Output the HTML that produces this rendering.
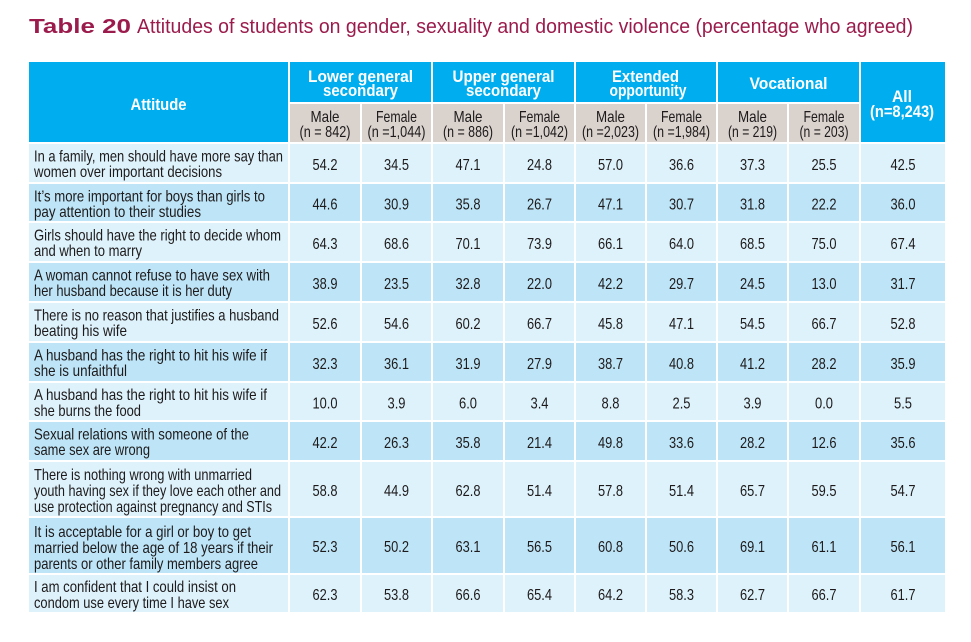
<!DOCTYPE html>
<html><head><meta charset="utf-8"><style>
html,body{margin:0;padding:0;background:#fff;}
svg{display:block;}
.t{font-family:"Liberation Sans Narrow","Liberation Sans",sans-serif;fill:#1e1a1b;font-size:16px;}
.n{font-family:"Liberation Sans Narrow","Liberation Sans",sans-serif;fill:#1e1a1b;font-size:16px;text-anchor:middle;}
.h{font-family:"Liberation Sans Narrow","Liberation Sans",sans-serif;fill:#fff;font-size:17px;font-weight:bold;text-anchor:middle;}
.s{font-family:"Liberation Sans Narrow","Liberation Sans",sans-serif;fill:#1e1a1b;font-size:16px;text-anchor:middle;}
.ti{font-family:"Liberation Sans",sans-serif;fill:#9b1c4c;font-size:20px;}
</style></head><body>
<svg width="971" height="642" viewBox="0 0 971 642" xmlns="http://www.w3.org/2000/svg">
<rect width="971" height="642" fill="#fff"/>
<text class="ti" x="29" y="33" font-weight="bold" textLength="102" lengthAdjust="spacingAndGlyphs">Table 20</text>
<text class="ti" x="137" y="33" textLength="776" lengthAdjust="spacingAndGlyphs">Attitudes of students on gender, sexuality and domestic violence (percentage who agreed)</text>

<!-- header -->
<g fill="#00aeef">
<rect x="29" y="62" width="259" height="80"/>
<rect x="290" y="62" width="141" height="40"/>
<rect x="433" y="62" width="141" height="40"/>
<rect x="576" y="62" width="140" height="40"/>
<rect x="718" y="62" width="141" height="40"/>
<rect x="861" y="62" width="84" height="80"/>
</g>
<g fill="#d9d2cd">
<rect x="290" y="104" width="70" height="38"/>
<rect x="362" y="104" width="69" height="38"/>
<rect x="433" y="104" width="70" height="38"/>
<rect x="505" y="104" width="69" height="38"/>
<rect x="576" y="104" width="69" height="38"/>
<rect x="647" y="104" width="69" height="38"/>
<rect x="718" y="104" width="69" height="38"/>
<rect x="789" y="104" width="70" height="38"/>
</g>
<text class="h" x="158.5" y="110" textLength="56" lengthAdjust="spacingAndGlyphs">Attitude</text>
<text class="h" x="360.5" y="82" textLength="105" lengthAdjust="spacingAndGlyphs">Lower general</text>
<text class="h" x="360.5" y="96" textLength="75" lengthAdjust="spacingAndGlyphs">secondary</text>
<text class="h" x="503.5" y="82" textLength="102" lengthAdjust="spacingAndGlyphs">Upper general</text>
<text class="h" x="503.5" y="96" textLength="75" lengthAdjust="spacingAndGlyphs">secondary</text>
<text class="h" x="645.5" y="82" textLength="67" lengthAdjust="spacingAndGlyphs">Extended</text>
<text class="h" x="648" y="96" textLength="77" lengthAdjust="spacingAndGlyphs">opportunity</text>
<text class="h" x="788.5" y="89" textLength="78" lengthAdjust="spacingAndGlyphs">Vocational</text>
<text class="h" x="902" y="102" textLength="20" lengthAdjust="spacingAndGlyphs">All</text>
<text class="h" x="902" y="117" textLength="64" lengthAdjust="spacingAndGlyphs">(n=8,243)</text>

<g>
<text class="s" x="325" y="122" textLength="29" lengthAdjust="spacingAndGlyphs">Male</text>
<text class="s" x="325" y="137" textLength="51" lengthAdjust="spacingAndGlyphs">(n = 842)</text>
<text class="s" x="396.5" y="122" textLength="41" lengthAdjust="spacingAndGlyphs">Female</text>
<text class="s" x="396.5" y="137" textLength="58" lengthAdjust="spacingAndGlyphs">(n =1,044)</text>
<text class="s" x="468" y="122" textLength="29" lengthAdjust="spacingAndGlyphs">Male</text>
<text class="s" x="468" y="137" textLength="50" lengthAdjust="spacingAndGlyphs">(n = 886)</text>
<text class="s" x="539.5" y="122" textLength="41" lengthAdjust="spacingAndGlyphs">Female</text>
<text class="s" x="539.5" y="137" textLength="57" lengthAdjust="spacingAndGlyphs">(n =1,042)</text>
<text class="s" x="610.5" y="122" textLength="29" lengthAdjust="spacingAndGlyphs">Male</text>
<text class="s" x="610.5" y="137" textLength="57" lengthAdjust="spacingAndGlyphs">(n =2,023)</text>
<text class="s" x="681.5" y="122" textLength="41" lengthAdjust="spacingAndGlyphs">Female</text>
<text class="s" x="681.5" y="137" textLength="57" lengthAdjust="spacingAndGlyphs">(n =1,984)</text>
<text class="s" x="752.5" y="122" textLength="29" lengthAdjust="spacingAndGlyphs">Male</text>
<text class="s" x="752.5" y="137" textLength="49" lengthAdjust="spacingAndGlyphs">(n = 219)</text>
<text class="s" x="824" y="122" textLength="41" lengthAdjust="spacingAndGlyphs">Female</text>
<text class="s" x="824" y="137" textLength="49" lengthAdjust="spacingAndGlyphs">(n = 203)</text>
</g>

<!-- body rows -->
<g>
<g fill="#ddf2fb">
<rect x="29" y="144" width="259" height="38"/><rect x="290" y="144" width="70" height="38"/><rect x="362" y="144" width="69" height="38"/><rect x="433" y="144" width="70" height="38"/><rect x="505" y="144" width="69" height="38"/><rect x="576" y="144" width="69" height="38"/><rect x="647" y="144" width="69" height="38"/><rect x="718" y="144" width="69" height="38"/><rect x="789" y="144" width="70" height="38"/><rect x="861" y="144" width="84" height="38"/>
<rect x="29" y="223" width="259" height="38"/><rect x="290" y="223" width="70" height="38"/><rect x="362" y="223" width="69" height="38"/><rect x="433" y="223" width="70" height="38"/><rect x="505" y="223" width="69" height="38"/><rect x="576" y="223" width="69" height="38"/><rect x="647" y="223" width="69" height="38"/><rect x="718" y="223" width="69" height="38"/><rect x="789" y="223" width="70" height="38"/><rect x="861" y="223" width="84" height="38"/>
<rect x="29" y="303" width="259" height="38"/><rect x="290" y="303" width="70" height="38"/><rect x="362" y="303" width="69" height="38"/><rect x="433" y="303" width="70" height="38"/><rect x="505" y="303" width="69" height="38"/><rect x="576" y="303" width="69" height="38"/><rect x="647" y="303" width="69" height="38"/><rect x="718" y="303" width="69" height="38"/><rect x="789" y="303" width="70" height="38"/><rect x="861" y="303" width="84" height="38"/>
<rect x="29" y="383" width="259" height="37"/><rect x="290" y="383" width="70" height="37"/><rect x="362" y="383" width="69" height="37"/><rect x="433" y="383" width="70" height="37"/><rect x="505" y="383" width="69" height="37"/><rect x="576" y="383" width="69" height="37"/><rect x="647" y="383" width="69" height="37"/><rect x="718" y="383" width="69" height="37"/><rect x="789" y="383" width="70" height="37"/><rect x="861" y="383" width="84" height="37"/>
<rect x="29" y="462" width="259" height="54"/><rect x="290" y="462" width="70" height="54"/><rect x="362" y="462" width="69" height="54"/><rect x="433" y="462" width="70" height="54"/><rect x="505" y="462" width="69" height="54"/><rect x="576" y="462" width="69" height="54"/><rect x="647" y="462" width="69" height="54"/><rect x="718" y="462" width="69" height="54"/><rect x="789" y="462" width="70" height="54"/><rect x="861" y="462" width="84" height="54"/>
<rect x="29" y="575" width="259" height="37"/><rect x="290" y="575" width="70" height="37"/><rect x="362" y="575" width="69" height="37"/><rect x="433" y="575" width="70" height="37"/><rect x="505" y="575" width="69" height="37"/><rect x="576" y="575" width="69" height="37"/><rect x="647" y="575" width="69" height="37"/><rect x="718" y="575" width="69" height="37"/><rect x="789" y="575" width="70" height="37"/><rect x="861" y="575" width="84" height="37"/>
</g>
<g fill="#bde5f7">
<rect x="29" y="184" width="259" height="37"/><rect x="290" y="184" width="70" height="37"/><rect x="362" y="184" width="69" height="37"/><rect x="433" y="184" width="70" height="37"/><rect x="505" y="184" width="69" height="37"/><rect x="576" y="184" width="69" height="37"/><rect x="647" y="184" width="69" height="37"/><rect x="718" y="184" width="69" height="37"/><rect x="789" y="184" width="70" height="37"/><rect x="861" y="184" width="84" height="37"/>
<rect x="29" y="263" width="259" height="38"/><rect x="290" y="263" width="70" height="38"/><rect x="362" y="263" width="69" height="38"/><rect x="433" y="263" width="70" height="38"/><rect x="505" y="263" width="69" height="38"/><rect x="576" y="263" width="69" height="38"/><rect x="647" y="263" width="69" height="38"/><rect x="718" y="263" width="69" height="38"/><rect x="789" y="263" width="70" height="38"/><rect x="861" y="263" width="84" height="38"/>
<rect x="29" y="343" width="259" height="38"/><rect x="290" y="343" width="70" height="38"/><rect x="362" y="343" width="69" height="38"/><rect x="433" y="343" width="70" height="38"/><rect x="505" y="343" width="69" height="38"/><rect x="576" y="343" width="69" height="38"/><rect x="647" y="343" width="69" height="38"/><rect x="718" y="343" width="69" height="38"/><rect x="789" y="343" width="70" height="38"/><rect x="861" y="343" width="84" height="38"/>
<rect x="29" y="422" width="259" height="38"/><rect x="290" y="422" width="70" height="38"/><rect x="362" y="422" width="69" height="38"/><rect x="433" y="422" width="70" height="38"/><rect x="505" y="422" width="69" height="38"/><rect x="576" y="422" width="69" height="38"/><rect x="647" y="422" width="69" height="38"/><rect x="718" y="422" width="69" height="38"/><rect x="789" y="422" width="70" height="38"/><rect x="861" y="422" width="84" height="38"/>
<rect x="29" y="518" width="259" height="55"/><rect x="290" y="518" width="70" height="55"/><rect x="362" y="518" width="69" height="55"/><rect x="433" y="518" width="70" height="55"/><rect x="505" y="518" width="69" height="55"/><rect x="576" y="518" width="69" height="55"/><rect x="647" y="518" width="69" height="55"/><rect x="718" y="518" width="69" height="55"/><rect x="789" y="518" width="70" height="55"/><rect x="861" y="518" width="84" height="55"/>
</g>
</g>

<!-- attitude text -->
<g>
<text class="t" x="34" y="161.5" textLength="249" lengthAdjust="spacingAndGlyphs">In a family, men should have more say than</text>
<text class="t" x="34" y="177" textLength="188" lengthAdjust="spacingAndGlyphs">women over important decisions</text>
<text class="t" x="34" y="201.5" textLength="231" lengthAdjust="spacingAndGlyphs">It’s more important for boys than girls to</text>
<text class="t" x="34" y="217" textLength="167" lengthAdjust="spacingAndGlyphs">pay attention to their studies</text>
<text class="t" x="34" y="240.5" textLength="247" lengthAdjust="spacingAndGlyphs">Girls should have the right to decide whom</text>
<text class="t" x="34" y="256" textLength="108" lengthAdjust="spacingAndGlyphs">and when to marry</text>
<text class="t" x="34" y="280.5" textLength="236" lengthAdjust="spacingAndGlyphs">A woman cannot refuse to have sex with</text>
<text class="t" x="34" y="296" textLength="198" lengthAdjust="spacingAndGlyphs">her husband because it is her duty</text>
<text class="t" x="34" y="320.5" textLength="245" lengthAdjust="spacingAndGlyphs">There is no reason that justifies a husband</text>
<text class="t" x="34" y="336" textLength="93" lengthAdjust="spacingAndGlyphs">beating his wife</text>
<text class="t" x="34" y="360.5" textLength="233" lengthAdjust="spacingAndGlyphs">A husband has the right to hit his wife if</text>
<text class="t" x="34" y="376" textLength="93" lengthAdjust="spacingAndGlyphs">she is unfaithful</text>
<text class="t" x="34" y="400" textLength="233" lengthAdjust="spacingAndGlyphs">A husband has the right to hit his wife if</text>
<text class="t" x="34" y="416" textLength="107" lengthAdjust="spacingAndGlyphs">she burns the food</text>
<text class="t" x="34" y="439.5" textLength="215" lengthAdjust="spacingAndGlyphs">Sexual relations with someone of the</text>
<text class="t" x="34" y="455" textLength="116" lengthAdjust="spacingAndGlyphs">same sex are wrong</text>
<text class="t" x="34" y="480" textLength="218" lengthAdjust="spacingAndGlyphs">There is nothing wrong with unmarried</text>
<text class="t" x="34" y="496" textLength="247" lengthAdjust="spacingAndGlyphs">youth having sex if they love each other and</text>
<text class="t" x="34" y="512" textLength="238" lengthAdjust="spacingAndGlyphs">use protection against pregnancy and STIs</text>
<text class="t" x="34" y="537" textLength="217" lengthAdjust="spacingAndGlyphs">It is acceptable for a girl or boy to get</text>
<text class="t" x="34" y="553" textLength="239" lengthAdjust="spacingAndGlyphs">married below the age of 18 years if their</text>
<text class="t" x="34" y="569" textLength="224" lengthAdjust="spacingAndGlyphs">parents or other family members agree</text>
<text class="t" x="34" y="592" textLength="202" lengthAdjust="spacingAndGlyphs">I am confident that I could insist on</text>
<text class="t" x="34" y="608" textLength="195" lengthAdjust="spacingAndGlyphs">condom use every time I have sex</text>
</g>

<!-- numbers -->
<g>
<text class="n" x="325" y="170" textLength="25" lengthAdjust="spacingAndGlyphs">54.2</text><text class="n" x="396.5" y="170" textLength="25" lengthAdjust="spacingAndGlyphs">34.5</text><text class="n" x="468" y="170" textLength="25" lengthAdjust="spacingAndGlyphs">47.1</text><text class="n" x="539.5" y="170" textLength="25" lengthAdjust="spacingAndGlyphs">24.8</text><text class="n" x="610.5" y="170" textLength="25" lengthAdjust="spacingAndGlyphs">57.0</text><text class="n" x="681.5" y="170" textLength="25" lengthAdjust="spacingAndGlyphs">36.6</text><text class="n" x="752.5" y="170" textLength="25" lengthAdjust="spacingAndGlyphs">37.3</text><text class="n" x="824" y="170" textLength="25" lengthAdjust="spacingAndGlyphs">25.5</text><text class="n" x="903" y="170" textLength="25" lengthAdjust="spacingAndGlyphs">42.5</text>

<text class="n" x="325" y="209.5" textLength="25" lengthAdjust="spacingAndGlyphs">44.6</text><text class="n" x="396.5" y="209.5" textLength="25" lengthAdjust="spacingAndGlyphs">30.9</text><text class="n" x="468" y="209.5" textLength="25" lengthAdjust="spacingAndGlyphs">35.8</text><text class="n" x="539.5" y="209.5" textLength="25" lengthAdjust="spacingAndGlyphs">26.7</text><text class="n" x="610.5" y="209.5" textLength="25" lengthAdjust="spacingAndGlyphs">47.1</text><text class="n" x="681.5" y="209.5" textLength="25" lengthAdjust="spacingAndGlyphs">30.7</text><text class="n" x="752.5" y="209.5" textLength="25" lengthAdjust="spacingAndGlyphs">31.8</text><text class="n" x="824" y="209.5" textLength="25" lengthAdjust="spacingAndGlyphs">22.2</text><text class="n" x="903" y="209.5" textLength="25" lengthAdjust="spacingAndGlyphs">36.0</text>

<text class="n" x="325" y="249" textLength="25" lengthAdjust="spacingAndGlyphs">64.3</text><text class="n" x="396.5" y="249" textLength="25" lengthAdjust="spacingAndGlyphs">68.6</text><text class="n" x="468" y="249" textLength="25" lengthAdjust="spacingAndGlyphs">70.1</text><text class="n" x="539.5" y="249" textLength="25" lengthAdjust="spacingAndGlyphs">73.9</text><text class="n" x="610.5" y="249" textLength="25" lengthAdjust="spacingAndGlyphs">66.1</text><text class="n" x="681.5" y="249" textLength="25" lengthAdjust="spacingAndGlyphs">64.0</text><text class="n" x="752.5" y="249" textLength="25" lengthAdjust="spacingAndGlyphs">68.5</text><text class="n" x="824" y="249" textLength="25" lengthAdjust="spacingAndGlyphs">75.0</text><text class="n" x="903" y="249" textLength="25" lengthAdjust="spacingAndGlyphs">67.4</text>

<text class="n" x="325" y="289" textLength="25" lengthAdjust="spacingAndGlyphs">38.9</text><text class="n" x="396.5" y="289" textLength="25" lengthAdjust="spacingAndGlyphs">23.5</text><text class="n" x="468" y="289" textLength="25" lengthAdjust="spacingAndGlyphs">32.8</text><text class="n" x="539.5" y="289" textLength="25" lengthAdjust="spacingAndGlyphs">22.0</text><text class="n" x="610.5" y="289" textLength="25" lengthAdjust="spacingAndGlyphs">42.2</text><text class="n" x="681.5" y="289" textLength="25" lengthAdjust="spacingAndGlyphs">29.7</text><text class="n" x="752.5" y="289" textLength="25" lengthAdjust="spacingAndGlyphs">24.5</text><text class="n" x="824" y="289" textLength="25" lengthAdjust="spacingAndGlyphs">13.0</text><text class="n" x="903" y="289" textLength="25" lengthAdjust="spacingAndGlyphs">31.7</text>

<text class="n" x="325" y="329" textLength="25" lengthAdjust="spacingAndGlyphs">52.6</text><text class="n" x="396.5" y="329" textLength="25" lengthAdjust="spacingAndGlyphs">54.6</text><text class="n" x="468" y="329" textLength="25" lengthAdjust="spacingAndGlyphs">60.2</text><text class="n" x="539.5" y="329" textLength="25" lengthAdjust="spacingAndGlyphs">66.7</text><text class="n" x="610.5" y="329" textLength="25" lengthAdjust="spacingAndGlyphs">45.8</text><text class="n" x="681.5" y="329" textLength="25" lengthAdjust="spacingAndGlyphs">47.1</text><text class="n" x="752.5" y="329" textLength="25" lengthAdjust="spacingAndGlyphs">54.5</text><text class="n" x="824" y="329" textLength="25" lengthAdjust="spacingAndGlyphs">66.7</text><text class="n" x="903" y="329" textLength="25" lengthAdjust="spacingAndGlyphs">52.8</text>

<text class="n" x="325" y="369" textLength="25" lengthAdjust="spacingAndGlyphs">32.3</text><text class="n" x="396.5" y="369" textLength="25" lengthAdjust="spacingAndGlyphs">36.1</text><text class="n" x="468" y="369" textLength="25" lengthAdjust="spacingAndGlyphs">31.9</text><text class="n" x="539.5" y="369" textLength="25" lengthAdjust="spacingAndGlyphs">27.9</text><text class="n" x="610.5" y="369" textLength="25" lengthAdjust="spacingAndGlyphs">38.7</text><text class="n" x="681.5" y="369" textLength="25" lengthAdjust="spacingAndGlyphs">40.8</text><text class="n" x="752.5" y="369" textLength="25" lengthAdjust="spacingAndGlyphs">41.2</text><text class="n" x="824" y="369" textLength="25" lengthAdjust="spacingAndGlyphs">28.2</text><text class="n" x="903" y="369" textLength="25" lengthAdjust="spacingAndGlyphs">35.9</text>

<text class="n" x="325" y="408.5" textLength="25" lengthAdjust="spacingAndGlyphs">10.0</text><text class="n" x="396.5" y="408.5" textLength="18" lengthAdjust="spacingAndGlyphs">3.9</text><text class="n" x="468" y="408.5" textLength="18" lengthAdjust="spacingAndGlyphs">6.0</text><text class="n" x="539.5" y="408.5" textLength="18" lengthAdjust="spacingAndGlyphs">3.4</text><text class="n" x="610.5" y="408.5" textLength="18" lengthAdjust="spacingAndGlyphs">8.8</text><text class="n" x="681.5" y="408.5" textLength="18" lengthAdjust="spacingAndGlyphs">2.5</text><text class="n" x="752.5" y="408.5" textLength="18" lengthAdjust="spacingAndGlyphs">3.9</text><text class="n" x="824" y="408.5" textLength="18" lengthAdjust="spacingAndGlyphs">0.0</text><text class="n" x="903" y="408.5" textLength="18" lengthAdjust="spacingAndGlyphs">5.5</text>

<text class="n" x="325" y="448" textLength="25" lengthAdjust="spacingAndGlyphs">42.2</text><text class="n" x="396.5" y="448" textLength="25" lengthAdjust="spacingAndGlyphs">26.3</text><text class="n" x="468" y="448" textLength="25" lengthAdjust="spacingAndGlyphs">35.8</text><text class="n" x="539.5" y="448" textLength="25" lengthAdjust="spacingAndGlyphs">21.4</text><text class="n" x="610.5" y="448" textLength="25" lengthAdjust="spacingAndGlyphs">49.8</text><text class="n" x="681.5" y="448" textLength="25" lengthAdjust="spacingAndGlyphs">33.6</text><text class="n" x="752.5" y="448" textLength="25" lengthAdjust="spacingAndGlyphs">28.2</text><text class="n" x="824" y="448" textLength="25" lengthAdjust="spacingAndGlyphs">12.6</text><text class="n" x="903" y="448" textLength="25" lengthAdjust="spacingAndGlyphs">35.6</text>

<text class="n" x="325" y="496" textLength="25" lengthAdjust="spacingAndGlyphs">58.8</text><text class="n" x="396.5" y="496" textLength="25" lengthAdjust="spacingAndGlyphs">44.9</text><text class="n" x="468" y="496" textLength="25" lengthAdjust="spacingAndGlyphs">62.8</text><text class="n" x="539.5" y="496" textLength="25" lengthAdjust="spacingAndGlyphs">51.4</text><text class="n" x="610.5" y="496" textLength="25" lengthAdjust="spacingAndGlyphs">57.8</text><text class="n" x="681.5" y="496" textLength="25" lengthAdjust="spacingAndGlyphs">51.4</text><text class="n" x="752.5" y="496" textLength="25" lengthAdjust="spacingAndGlyphs">65.7</text><text class="n" x="824" y="496" textLength="25" lengthAdjust="spacingAndGlyphs">59.5</text><text class="n" x="903" y="496" textLength="25" lengthAdjust="spacingAndGlyphs">54.7</text>

<text class="n" x="325" y="552" textLength="25" lengthAdjust="spacingAndGlyphs">52.3</text><text class="n" x="396.5" y="552" textLength="25" lengthAdjust="spacingAndGlyphs">50.2</text><text class="n" x="468" y="552" textLength="25" lengthAdjust="spacingAndGlyphs">63.1</text><text class="n" x="539.5" y="552" textLength="25" lengthAdjust="spacingAndGlyphs">56.5</text><text class="n" x="610.5" y="552" textLength="25" lengthAdjust="spacingAndGlyphs">60.8</text><text class="n" x="681.5" y="552" textLength="25" lengthAdjust="spacingAndGlyphs">50.6</text><text class="n" x="752.5" y="552" textLength="25" lengthAdjust="spacingAndGlyphs">69.1</text><text class="n" x="824" y="552" textLength="25" lengthAdjust="spacingAndGlyphs">61.1</text><text class="n" x="903" y="552" textLength="25" lengthAdjust="spacingAndGlyphs">56.1</text>

<text class="n" x="325" y="600" textLength="25" lengthAdjust="spacingAndGlyphs">62.3</text><text class="n" x="396.5" y="600" textLength="25" lengthAdjust="spacingAndGlyphs">53.8</text><text class="n" x="468" y="600" textLength="25" lengthAdjust="spacingAndGlyphs">66.6</text><text class="n" x="539.5" y="600" textLength="25" lengthAdjust="spacingAndGlyphs">65.4</text><text class="n" x="610.5" y="600" textLength="25" lengthAdjust="spacingAndGlyphs">64.2</text><text class="n" x="681.5" y="600" textLength="25" lengthAdjust="spacingAndGlyphs">58.3</text><text class="n" x="752.5" y="600" textLength="25" lengthAdjust="spacingAndGlyphs">62.7</text><text class="n" x="824" y="600" textLength="25" lengthAdjust="spacingAndGlyphs">66.7</text><text class="n" x="903" y="600" textLength="25" lengthAdjust="spacingAndGlyphs">61.7</text>
</g>
</svg>
</body></html>
